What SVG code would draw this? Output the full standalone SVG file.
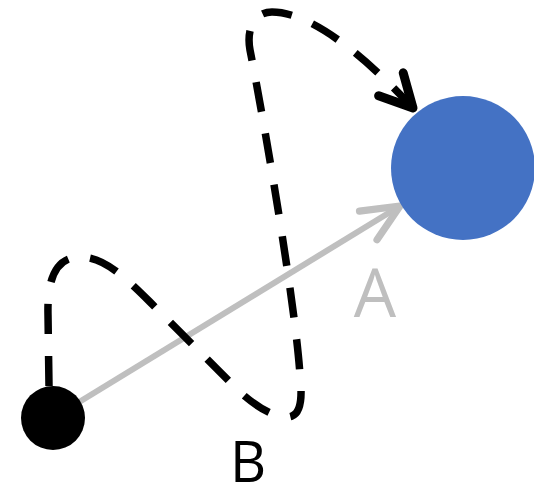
<svg xmlns="http://www.w3.org/2000/svg" width="534" height="491" viewBox="0 0 534 491">
<style>
.lbl{font-family:"Open Sans","Liberation Sans",sans-serif;text-anchor:middle}
.dash{fill:none;stroke:#000;stroke-width:7.5;stroke-dasharray:30 22}
.gray{fill:none;stroke:#BFBFBF;stroke-width:6}
</style>
<defs>
<marker id="ah-black" markerUnits="userSpaceOnUse" orient="auto" markerWidth="60" markerHeight="60" refX="0" refY="0" viewBox="-35 -25 45 50" overflow="visible">
<path d="M -27 -14 L 0 0 L -27 14" fill="none" stroke="#000" stroke-width="7.5" stroke-linecap="round" stroke-linejoin="round" stroke-dasharray="none"/>
</marker>
<marker id="ah-gray" markerUnits="userSpaceOnUse" orient="auto" markerWidth="60" markerHeight="60" refX="0" refY="0" viewBox="-35 -25 45 50" overflow="visible">
<path d="M -31 -14 L 0 0 L -31 14" fill="none" stroke="#BFBFBF" stroke-width="6" stroke-linecap="round" stroke-linejoin="round"/>
</marker>
</defs>
<g id="connectors">
<line id="arrow-A" class="gray" x1="53" y1="418" x2="400" y2="206" marker-end="url(#ah-gray)"/>
<path id="path-B" class="dash" d="M 49 386 L 48 315 C 47 275 58 257 80 257 C 102 257 120 272 150 302 L 240 392 C 262 412 282 420 292 416 C 302 412 302 395 300 375 C 295 300 262 110 250 50 C 246 28 255 12 272 12 C 300 12 345 35 413 108" marker-end="url(#ah-black)"/>
</g>
<g id="start-node"><circle cx="53" cy="418" r="32" fill="#000"/></g>
<g id="target-node"><circle cx="463" cy="168" r="72" fill="#4472C4"/></g>
<g id="label-A"><text class="lbl" x="375" y="317" font-size="67" fill="#BFBFBF">A</text></g>
<g id="label-B"><text class="lbl" x="248" y="482" font-size="56" fill="#000">B</text></g>
</svg>
